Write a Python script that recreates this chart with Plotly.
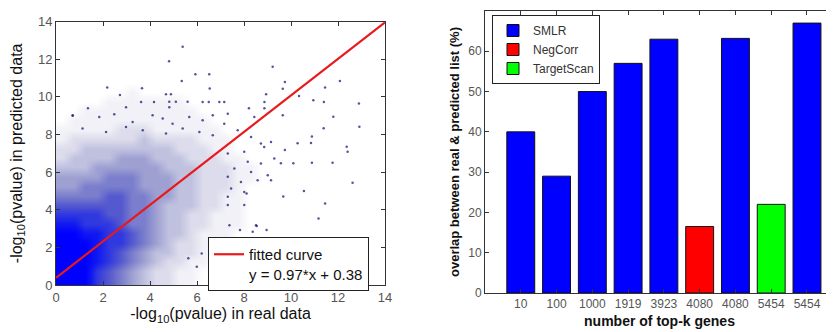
import plotly.graph_objects as go

# ---------------- Left panel data ----------------
# Estimated point density (0 = none ... 9 = saturated) in 0.5 x 0.5 cells,
# rows from y=0-0.5 (first) upward, columns x=0-0.5 ... 8.5-9
density_x = [0.25 + 0.5 * i for i in range(18)]
density_y = [0.25 + 0.5 * j for j in range(22)]
density_rows = [
    "999765432211000000",
    "999765432211000000",
    "999876543221100000",
    "999876543322110000",
    "999877654322111000",
    "998877654332111000",
    "887776554332211100",
    "777766554332211100",
    "666666554333221100",
    "555566554433221100",
    "445555544433222100",
    "444455544433222110",
    "333444444333222110",
    "233334443332221100",
    "223333333322211000",
    "122222232222111000",
    "111112221111110000",
    "011111111111100000",
    "001111111111000000",
    "000011111110000000",
    "000000100000000000",
    "000000000000000000",
]

# Individual scattered points (sparse outer region)
outlier_x = [5.39, 4.81, 5.35, 2.18, 1.36, 0.71, 2.98, 2.72, 5.93, 6.52, 6.54, 9.22,
             9.74, 12.08, 12.89, 11.80, 11.45, 10.95, 10.34, 10.89, 11.39, 12.37,
             12.91, 11.77, 10.89, 10.10, 9.74, 12.62, 10.55, 11.45, 11.17, 9.67,
             8.54, 8.11, 5.63, 5.99, 6.20, 7.48, 7.83, 8.96,
             3.66, 4.68, 4.89, 3.62, 4.17, 4.82, 5.10, 5.60, 6.24, 6.50, 6.95, 4.82,
             9.65, 8.94, 8.87, 8.87, 7.16, 8.21, 11.40, 10.85, 10.28, 12.41, 9.57,
             7.31, 8.44, 9.65, 7.16, 7.73, 8.30, 8.72, 9.15, 7.31, 8.01, 8.86, 9.29,
             8.16, 8.72, 7.59, 8.30, 9.01, 7.31, 7.87, 8.58, 9.15, 7.45, 8.01, 7.31,
             7.31, 8.01, 7.38, 8.51, 8.37,
             0.71, 1.84, 2.48, 3.26, 4.11, 4.54, 4.96, 5.67, 6.24, 6.67, 1.13, 2.13,
             2.98, 3.69, 4.68, 5.39, 6.10, 6.67]
outlier_y = [12.67, 11.90, 10.85, 10.50, 9.40, 9.00, 9.45, 10.10, 11.20, 11.20, 10.45, 11.60,
             10.80, 10.85, 9.65, 8.95, 10.50, 9.83, 10.05, 7.89, 8.33, 7.35,
             8.42, 6.50, 6.50, 6.47, 7.18, 5.44, 5.00, 4.34, 3.54, 4.70,
             3.14, 4.87, 1.42, 0.97, 1.68, 2.39, 2.92, 2.92,
             10.46, 10.14, 10.14, 9.73, 9.73, 9.75, 9.75, 9.75, 9.73, 9.73, 9.73, 9.45,
             10.44, 10.14, 9.73, 9.40, 9.73, 9.40, 9.73, 7.55, 7.54, 7.08, 6.48,
             9.11, 8.93, 9.02, 8.58, 8.23, 7.87, 7.52, 7.61, 6.99, 7.08, 7.34, 6.72,
             6.55, 6.46, 6.19, 6.01, 5.84, 5.75, 5.48, 5.57, 5.57, 5.13, 4.95, 4.69,
             4.25, 4.25, 3.18, 3.18, 2.83,
             9.02, 8.93, 9.08, 8.67, 9.02, 8.85, 8.58, 8.93, 8.76, 9.02, 8.32, 8.14,
             8.40, 8.23, 8.05, 8.32, 8.14, 7.96]

fit_slope = 0.97
fit_intercept = 0.38
fit_x = [0, 14]

# ---------------- Right panel data ----------------
bar_labels = ["10", "100", "1000", "1919", "3923", "4080", "4080", "5454", "5454"]
bar_values = [40, 29, 50, 57, 63, 16.5, 63.2, 22, 67]
bar_method = ["SMLR", "SMLR", "SMLR", "SMLR", "SMLR", "NegCorr", "SMLR", "TargetScan", "SMLR"]
methods = ["SMLR", "NegCorr", "TargetScan"]
method_colors = {"SMLR": "#0000ff", "NegCorr": "#ff0000", "TargetScan": "#00ff00"}

# ---------------- Geometry (page has an 8px body margin) ----------------
OFF = 8
W, H = 834 - OFF, 332 - OFF


def px_x(p):
    return (p - OFF) / W


def px_y(p):
    return (H - (p - OFF)) / H


# ---------------- Figure ----------------
fig = go.Figure()

z = [[int(c) for c in row] for row in density_rows]
fig.add_trace(go.Heatmap(
    x=density_x, y=density_y, z=z, zmin=0, zmax=9, zsmooth="best",
    colorscale=[[0.0, "#ffffff"], [1 / 9, "#f1f1f7"], [2 / 9, "#dcdcec"],
                [3 / 9, "#c0c1df"], [4 / 9, "#9ea0d2"], [5 / 9, "#7a7ecc"],
                [6 / 9, "#5559cf"], [7 / 9, "#3038e0"], [8 / 9, "#1018f2"],
                [1.0, "#0000ff"]],
    showscale=False, hoverinfo="skip", xaxis="x", yaxis="y", showlegend=False))

fig.add_trace(go.Scatter(
    x=outlier_x, y=outlier_y, mode="markers",
    marker=dict(size=2.5, color="#1c1c78", opacity=0.75),
    showlegend=False, xaxis="x", yaxis="y"))

fig.add_trace(go.Scatter(
    x=fit_x, y=[fit_slope * v + fit_intercept for v in fit_x], mode="lines",
    line=dict(color="#e8191c", width=2.2),
    name="fitted curve<br>y = 0.97*x + 0.38",
    xaxis="x", yaxis="y", legend="legend"))

for m in methods:
    xs = [i for i, mm in enumerate(bar_method) if mm == m]
    ys = [bar_values[i] for i, mm in enumerate(bar_method) if mm == m]
    fig.add_trace(go.Bar(
        x=xs, y=ys, width=0.78, name=m,
        marker=dict(color=method_colors[m], line=dict(color="#111111", width=1)),
        xaxis="x2", yaxis="y2", legend="legend2"))

tickfont_l = dict(family="Liberation Sans, Arial, sans-serif", size=13, color="#555555")
tickfont_r = dict(family="Liberation Sans, Arial, sans-serif", size=12, color="#555555")

common = dict(ticks="inside", ticklen=4, tickcolor="#333", showline=True, linecolor="#333",
              linewidth=1, showgrid=False, zeroline=False, automargin=False)

fig.update_layout(
    width=W, height=H,
    margin=dict(l=0, r=0, t=0, b=0),
    paper_bgcolor="white", plot_bgcolor="white",
    barmode="overlay",
    font=dict(family="Liberation Sans, Arial, sans-serif", color="#111111"),
    xaxis=dict(domain=[px_x(56), px_x(385)], range=[0, 14], tickvals=list(range(0, 15, 2)),
               mirror="ticks", tickfont=tickfont_l, anchor="y",
               title=dict(text="-log<sub>10</sub>(pvalue) in real data",
                          font=dict(size=16), standoff=4), **common),
    yaxis=dict(domain=[px_y(285), px_y(21.7)], range=[0, 14], tickvals=list(range(0, 15, 2)),
               mirror="ticks", tickfont=tickfont_l, anchor="x",
               title=dict(text="-log<sub>10</sub>(pvalue) in predicted data",
                          font=dict(size=16), standoff=14), **common),
    xaxis2=dict(domain=[px_x(485), 1.0], range=[-1.0, 8.755],
                tickvals=list(range(len(bar_labels))), ticktext=bar_labels,
                mirror="ticks", tickfont=tickfont_r, anchor="y2",
                title=dict(text="<b>number of top-k genes</b>", font=dict(size=14), standoff=5),
                **common),
    yaxis2=dict(domain=[px_y(293), px_y(11)], range=[0, 70], tickvals=list(range(0, 71, 10)),
                tickfont=tickfont_r, anchor="x2",
                title=dict(text="<b>overlap between real & predicted list (%)</b>",
                           font=dict(size=13), standoff=5), **common),
    legend=dict(x=px_x(208), y=px_y(237), xanchor="left", yanchor="top",
                bgcolor="white", bordercolor="#222", borderwidth=1,
                font=dict(size=15, color="#111"), valign="top"),
    legend2=dict(x=px_x(492), y=px_y(15), xanchor="left", yanchor="top",
                 bgcolor="white", bordercolor="#222", borderwidth=1,
                 font=dict(size=12, color="#333"), tracegroupgap=0),
)

fig.write_html("out.html")
